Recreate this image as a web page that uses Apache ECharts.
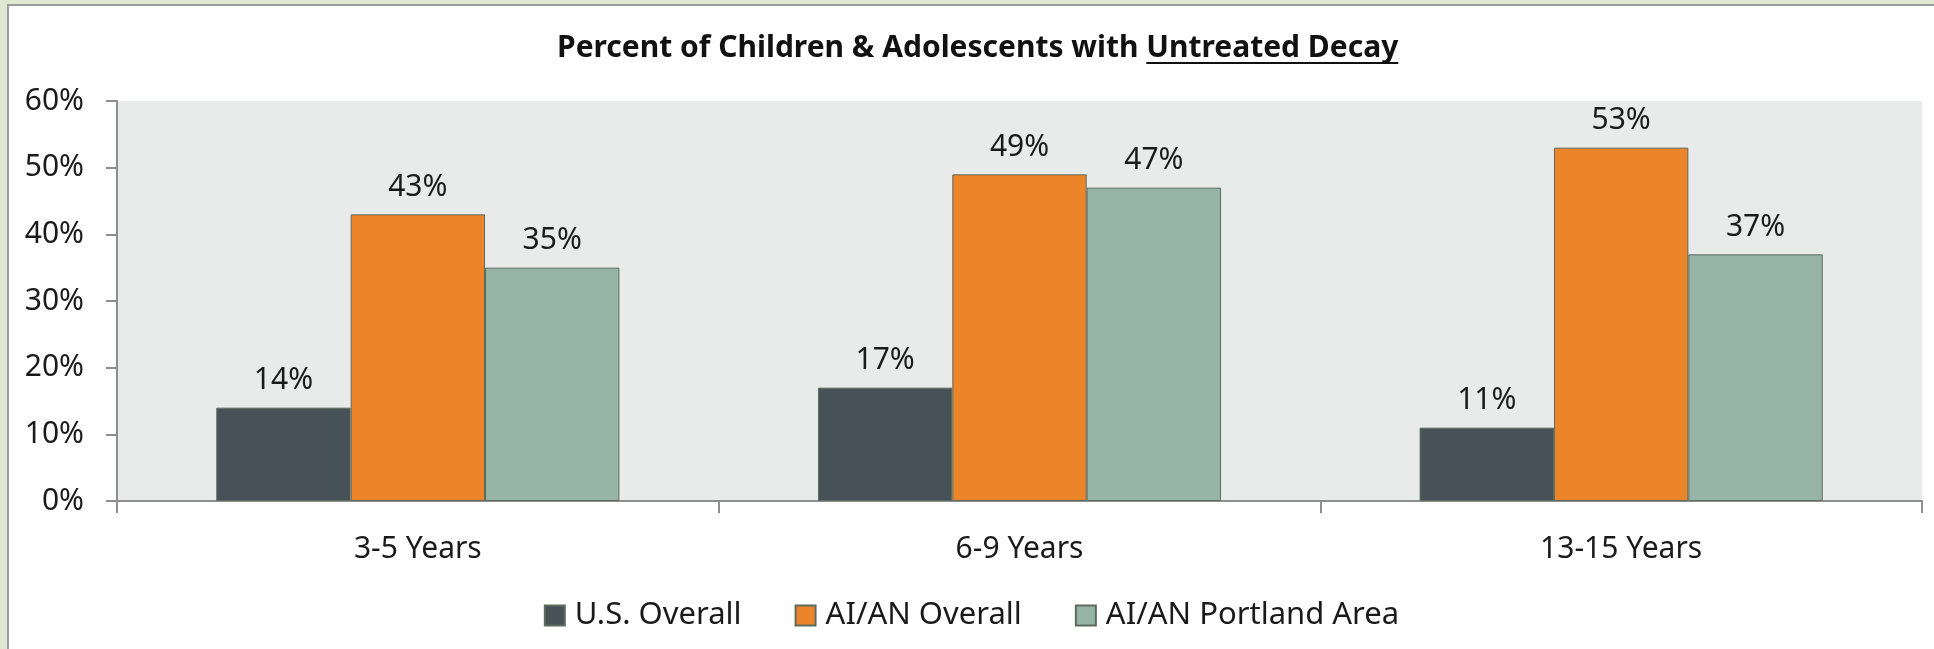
<!DOCTYPE html>
<html>
<head>
<meta charset="utf-8">
<title>Percent of Children &amp; Adolescents with Untreated Decay</title>
<script src="https://cdn.jsdelivr.net/npm/echarts@6/dist/echarts.min.js"></script>
<style>
    html, body { margin: 0; padding: 0; width: 1934px; height: 649px; overflow: hidden; background: #dfe8d0; }
    #panel {
        position: absolute; left: 7px; top: 4px;
        width: 1925px; height: 643px;
        background: #fff;
        border-left: 2px solid #9c9c9c;
        border-top: 2px solid #9c9c9c;
    }
    #untreated_decay { width: 1925px; height: 643px; }
</style>
</head>
<body>
<div id="panel"><div id="untreated_decay"></div></div>

<script>
// Chart data
// ------------------------------

var categories = ['3-5 Years', '6-9 Years', '13-15 Years'];
var seriesNames = ['U.S. Overall', 'AI/AN Overall', 'AI/AN Portland Area'];
var usOverall = [14, 17, 11];
var aianOverall = [43, 49, 53];
var aianPortland = [35, 47, 37];

var titleMain = 'Percent of Children & Adolescents with ';
var titleUnderlined = 'Untreated Decay';


// Setup module
// ------------------------------

var EchartsUntreatedDecay = function() {

    var _untreatedDecayChart = function() {
        if (typeof echarts == 'undefined') {
            console.warn('Warning - echarts.min.js is not loaded.');
            return;
        }

        var element = document.getElementById('untreated_decay');
        if (!element) return;

        var chart = echarts.init(element, null, { renderer: 'canvas' });

        // Measure title so the underline sits under the last words
        var titleSize = 30;
        var ctx = document.createElement('canvas').getContext('2d');
        ctx.font = 'bold ' + titleSize + 'px "Noto Sans"';
        var mainW = ctx.measureText(titleMain).width;
        var underW = ctx.measureText(titleUnderlined).width;
        var titleCenter = 969;
        var titleLeft = Math.round(titleCenter - (mainW + underW) / 2);

        var font = '"Noto Sans", sans-serif';
        var colors = ['#465257', '#ec8429', '#97b5a7'];

        var makeSeries = function(name, data, color) {
            return {
                name: name,
                type: 'bar',
                data: data,
                barGap: '0%',
                barCategoryGap: '33%',
                itemStyle: {
                    color: color,
                    borderColor: '#5d6b5f',
                    borderWidth: 1
                },
                label: {
                    show: true,
                    position: 'top',
                    distance: 12,
                    formatter: '{c}%',
                    color: '#1a1a1a',
                    fontSize: 30,
                    fontFamily: font
                }
            };
        };

        chart.setOption({
            animation: false,
            color: colors,
            textStyle: { fontFamily: font },

            title: {
                text: titleMain + titleUnderlined,
                left: titleLeft,
                top: 27,
                padding: 0,
                textStyle: {
                    fontFamily: font,
                    fontWeight: 'bold',
                    fontSize: titleSize,
                    color: '#111'
                }
            },

            graphic: [{
                type: 'line',
                shape: { x1: titleLeft + mainW, y1: 57, x2: titleLeft + mainW + underW, y2: 57 },
                style: { stroke: '#111', lineWidth: 2 }
            }],

            grid: {
                left: 108,
                right: 12,
                top: 95,
                bottom: 148,
                show: true,
                backgroundColor: '#e9ebea',
                borderWidth: 0
            },

            legend: {
                data: seriesNames,
                left: 'center',
                top: 589,
                icon: 'rect',
                itemWidth: 20,
                itemHeight: 20,
                itemGap: 53,
                textStyle: {
                    fontSize: 31,
                    color: '#1a1a1a',
                    fontFamily: font,
                    padding: [0, 0, 0, 5]
                }
            },

            xAxis: {
                type: 'category',
                data: categories,
                axisLine: { lineStyle: { color: '#8e8e8e', width: 2 } },
                axisTick: { show: true, length: 12, lineStyle: { color: '#8e8e8e', width: 2 } },
                axisLabel: { color: '#1a1a1a', fontSize: 30, margin: 33, fontFamily: font },
                splitLine: { show: false }
            },

            yAxis: {
                type: 'value',
                min: 0,
                max: 60,
                interval: 10,
                axisLine: { show: true, lineStyle: { color: '#8e8e8e', width: 2 } },
                axisTick: { show: true, length: 11, lineStyle: { color: '#8e8e8e', width: 2 } },
                axisLabel: {
                    color: '#1a1a1a',
                    fontSize: 30,
                    margin: 33,
                    padding: [10, 0, 0, 0],
                    formatter: '{value}%',
                    fontFamily: font
                },
                splitLine: { show: false }
            },

            series: [
                makeSeries(seriesNames[0], usOverall, colors[0]),
                makeSeries(seriesNames[1], aianOverall, colors[1]),
                makeSeries(seriesNames[2], aianPortland, colors[2])
            ]
        });

        window.addEventListener('resize', function() {
            chart.resize();
        });
    };

    return {
        init: function() {
            _untreatedDecayChart();
        }
    }
}();


document.addEventListener('DOMContentLoaded', function() {
    EchartsUntreatedDecay.init();
});
</script>
</body>
</html>
